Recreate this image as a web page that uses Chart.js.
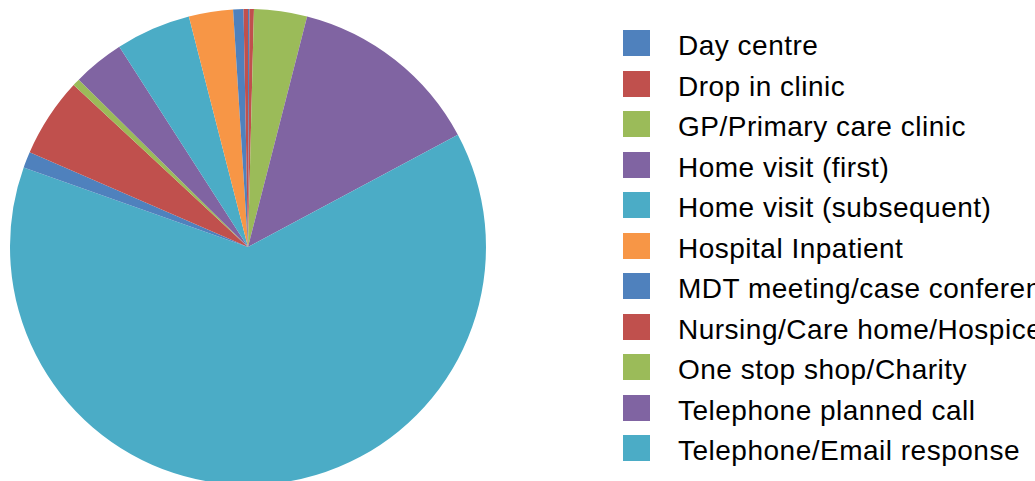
<!DOCTYPE html>
<html>
<head>
<meta charset="utf-8">
<script src="https://cdn.jsdelivr.net/npm/chart.js@4"></script>
<style>
  html, body { margin: 0; padding: 0; background: #fff; overflow: hidden; width: 1035px; height: 481px; }
  #pieWrap { position: absolute; left: 0; top: 0; width: 496px; height: 494px; }
  #legend { position: absolute; left: 623px; top: 26px; width: 500px; height: 446px; overflow: hidden; white-space: nowrap; font-family: "Liberation Sans", Arial, sans-serif; font-size: 28px; letter-spacing: 0.5px; color: #000; }
  .item { height: 40.55px; line-height: 40.55px; position: relative; }
  .box { position: absolute; left: 0; top: 4px; width: 27px; height: 26px; }
  .txt { position: absolute; left: 55px; top: 0; }
</style>
</head>
<body>
<div id="pieWrap"><canvas id="pieChart"></canvas></div>
<div id="legend"></div>
<script>
// contact types (the last three don't fit in the visible legend)
const categories = [
    'Day centre',
    'Drop in clinic',
    'GP/Primary care clinic',
    'Home visit (first)',
    'Home visit (subsequent)',
    'Hospital Inpatient',
    'MDT meeting/case conference',
    'Nursing/Care home/Hospice',
    'One stop shop/Charity',
    'Telephone planned call',
    'Telephone/Email response',
    'Unknown',
    'Video consultation',
    'Ward round'
];
const contacts = [1, 3, 36, 132, 633, 0, 11, 54, 5, 35, 51, 30, 7, 3];

const palette = ['#4F81BD', '#C0504D', '#9BBB59', '#8064A2', '#4BACC6', '#F79646'];
const colors = categories.map((c, i) => palette[i % palette.length]);

document.addEventListener('DOMContentLoaded', function() {
    const ctx = document.getElementById('pieChart').getContext('2d');

    const chart = new Chart(ctx, {
        type: 'pie',
        data: {
            labels: categories,
            datasets: [{
                data: contacts,
                backgroundColor: colors,
                borderWidth: 0
            }]
        },
        options: {
            responsive: true,
            maintainAspectRatio: false,
            animation: false,
            layout: {
                padding: { left: 10, right: 10, top: 9, bottom: 9 }
            },
            plugins: {
                legend: { display: false },
                tooltip: { enabled: false }
            }
        }
    });

    // legend as html, built from the chart's own labels
    const legend = document.getElementById('legend');
    chart.data.labels.forEach(function(label, i) {
        const item = document.createElement('div');
        item.className = 'item';
        const box = document.createElement('span');
        box.className = 'box';
        box.style.background = chart.data.datasets[0].backgroundColor[i];
        const txt = document.createElement('span');
        txt.className = 'txt';
        txt.textContent = label;
        item.appendChild(box);
        item.appendChild(txt);
        legend.appendChild(item);
    });
});
</script>
</body>
</html>
